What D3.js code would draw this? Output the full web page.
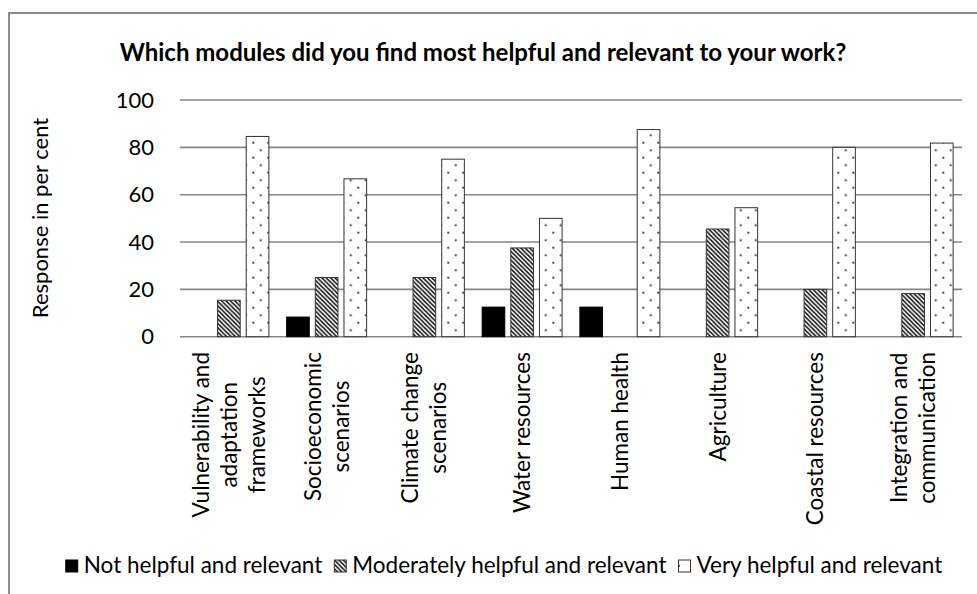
<!DOCTYPE html>
<html><head><meta charset="utf-8">
<script src="https://cdn.jsdelivr.net/npm/d3@7"></script>
<style>
body{margin:0;background:#fff}
svg{display:block}
text{font-family:Lato,"Open Sans",sans-serif;fill:#000}
</style>
</head><body>
<svg id="c" width="977" height="594"></svg>
<script>
const categories = [
  ["Vulnerability and","adaptation","frameworks"],
  ["Socioeconomic","scenarios"],
  ["Climate change","scenarios"],
  ["Water resources"],
  ["Human health"],
  ["Agriculture"],
  ["Coastal resources"],
  ["Integration and","communication"]
];
const seriesNames = ["Not helpful and relevant","Moderately helpful and relevant","Very helpful and relevant"];
const notHelpful = [0, 8.3, 0, 12.5, 12.5, 0, 0, 0];
const moderately = [15.4, 25, 25, 37.5, 0, 45.5, 20, 18.2];
const veryHelpful = [84.6, 66.7, 75, 50, 87.5, 54.5, 80, 81.8];
const yTicks = [0, 20, 40, 60, 80, 100];
const titleText = "Which modules did you find most helpful and relevant to your work?";
const yAxisTitle = "Response in per cent";

const series = [notHelpful, moderately, veryHelpful];
const fills = ["#000", "url(#diag)", "url(#dots)"];

const svg = d3.select("#c");
const defs = svg.append("defs");
const diag = defs.append("pattern").attr("id","diag").attr("patternUnits","userSpaceOnUse")
  .attr("width",4.4).attr("height",4.4);
diag.append("rect").attr("width",4.4).attr("height",4.4).attr("fill","#fff");
diag.append("path").attr("d","M-1,-1L5.4,5.4M-1,3.4L1,5.4M3.4,-1L5.4,1")
  .attr("stroke","#111").attr("stroke-width",1.5);
const dots = defs.append("pattern").attr("id","dots").attr("patternUnits","userSpaceOnUse")
  .attr("x",13.3).attr("y",7.7).attr("width",15).attr("height",15);
dots.append("rect").attr("width",15).attr("height",15).attr("fill","#fff");
[[0,0],[15,0],[0,15],[15,15],[7.5,7.5]].forEach(([cx,cy])=>
  dots.append("circle").attr("cx",cx).attr("cy",cy).attr("r",1.1).attr("fill","#222"));

// outer frame
svg.append("rect").attr("x",9).attr("y",13).attr("width",1200).attr("height",1200)
  .attr("fill","none").attr("stroke","#8c8c8c").attr("stroke-width",2);

const x = d3.scaleBand().domain(d3.range(categories.length)).range([180, 962]).padding(0);
const x1 = d3.scaleBand().domain(d3.range(3)).range([0, x.bandwidth()]).paddingInner(0.21).paddingOuter(0.31);
const y = d3.scaleLinear().domain([0,100]).range([336.7, 100]);

// gridlines
svg.append("g").selectAll("line").data(yTicks).join("line")
  .attr("x1",180).attr("x2",962).attr("y1",d=>y(d)).attr("y2",d=>y(d))
  .attr("stroke","#868686").attr("stroke-width",1.6);

// y tick labels
svg.append("g").selectAll("text").data(yTicks).join("text")
  .attr("x",154).attr("y",d=>y(d)).attr("dy","0.35em").attr("text-anchor","end")
  .attr("font-size",22).text(d=>d);

// bars
series.forEach((vals, si) => {
  svg.append("g").selectAll("rect").data(vals.map((v,i)=>({v,i})).filter(d=>d.v>0)).join("rect")
    .attr("x", d => x(d.i) + x1(si))
    .attr("width", x1.bandwidth())
    .attr("y", d => y(d.v))
    .attr("height", d => y(0) - y(d.v))
    .attr("fill", fills[si])
    .attr("stroke", si===0 ? "#000" : "#333")
    .attr("stroke-width", 1);
});

// category labels
const lineH = 28;
categories.forEach((lines, i) => {
  const g = svg.append("g")
    .attr("transform", `translate(${x(i) + x.bandwidth()/2},352) rotate(-90)`);
  const t = g.append("text").attr("font-size",22.5).attr("text-anchor","middle");
  lines.forEach((ln, k) => {
    t.append("tspan").attr("x",0).attr("y",(k-(lines.length-1)/2)*lineH).attr("dy","0.35em").text(ln);
  });
  const w = t.node().getBBox().width;
  t.selectAll("tspan").attr("x", -w/2);
});

// title
svg.append("text").attr("x",483).attr("y",61).attr("text-anchor","middle")
  .attr("font-size",24).attr("font-weight","bold").text(titleText);

// y axis title
svg.append("text").attr("transform","translate(40,218) rotate(-90)")
  .attr("text-anchor","middle").attr("dy","0.35em").attr("font-size",22).text(yAxisTitle);

// legend
const leg = svg.append("g");
let cx = 0;
seriesNames.forEach((name, si) => {
  leg.append("rect").attr("x",cx).attr("y",-13).attr("width",12).attr("height",12)
    .attr("fill", fills[si]).attr("stroke", si===0?"#000":"#333").attr("stroke-width",1);
  cx += 18;
  const t = leg.append("text").attr("x",cx).attr("y",0).attr("font-size",22.5).text(name);
  cx += t.node().getComputedTextLength() + 12;
});
const total = cx - 12;
leg.attr("transform", `translate(${504 - total/2},573)`);
</script>
</body></html>
